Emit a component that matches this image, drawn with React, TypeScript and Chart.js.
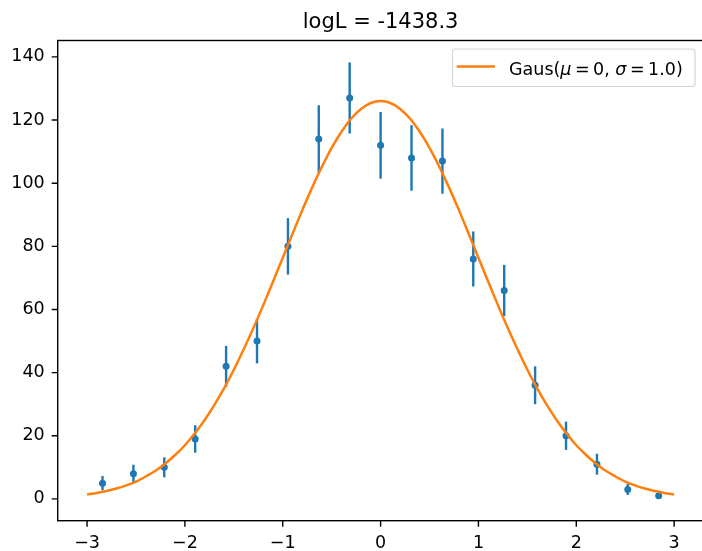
import React, { useEffect, useRef } from "react";
import { Chart, registerables } from "chart.js";

Chart.register(...registerables);

const TITLE = "logL = -1438.3";
const LEGEND_PARTS: { t: string; italic: boolean; gapAfter: number }[] = [
  { t: "Gaus(", italic: false, gapAfter: 0 },
  { t: "μ", italic: true, gapAfter: 3.5 },
  { t: "=", italic: false, gapAfter: 3.5 },
  { t: "0,", italic: false, gapAfter: 5.5 },
  { t: "σ", italic: true, gapAfter: 3.5 },
  { t: "=", italic: false, gapAfter: 3.5 },
  { t: "1.0", italic: false, gapAfter: 0 },
  { t: ")", italic: false, gapAfter: 0 },
];

const binCenters = [
  -2.842, -2.526, -2.211, -1.895, -1.579, -1.263, -0.947, -0.632, -0.316, 0,
  0.316, 0.632, 0.947, 1.263, 1.579, 1.895, 2.211, 2.526, 2.842,
];
const counts = [5, 8, 10, 19, 42, 50, 80, 114, 127, 112, 108, 107, 76, 66, 36, 20, 11, 3, 1];
const errors = [
  2.24, 2.83, 3.16, 4.36, 6.48, 7.07, 8.94, 10.68, 11.27, 10.58, 10.39, 10.34, 8.72, 8.12,
  6.0, 4.47, 3.32, 1.73, 1.0,
];

const curveX = [
  -3.0, -2.9, -2.8, -2.7, -2.6, -2.5, -2.4, -2.3, -2.2, -2.1, -2.0, -1.9, -1.8, -1.7, -1.6,
  -1.5, -1.4, -1.3, -1.2, -1.1, -1.0, -0.9, -0.8, -0.7, -0.6, -0.5, -0.4, -0.3, -0.2, -0.1,
  0.0, 0.1, 0.2, 0.3, 0.4, 0.5, 0.6, 0.7, 0.8, 0.9, 1.0, 1.1, 1.2, 1.3, 1.4, 1.5, 1.6, 1.7,
  1.8, 1.9, 2.0, 2.1, 2.2, 2.3, 2.4, 2.5, 2.6, 2.7, 2.8, 2.9, 3.0,
];
const curveY = [
  1.4, 1.9, 2.5, 3.3, 4.3, 5.5, 7.1, 8.9, 11.2, 13.9, 17.0, 20.7, 24.9, 29.7, 35.0, 40.9,
  47.3, 54.1, 61.3, 68.8, 76.4, 84.0, 91.5, 98.6, 105.2, 111.2, 116.3, 120.5, 123.5, 125.4,
  126.0, 125.4, 123.5, 120.5, 116.3, 111.2, 105.2, 98.6, 91.5, 84.0, 76.4, 68.8, 61.3, 54.1,
  47.3, 40.9, 35.0, 29.7, 24.9, 20.7, 17.0, 13.9, 11.2, 8.9, 7.1, 5.5, 4.3, 3.3, 2.5, 1.9, 1.4,
];

const xTicks = [-3, -2, -1, 0, 1, 2, 3];
const yTicks = [0, 20, 40, 60, 80, 100, 120, 140];
const X_MIN = -3.3;
const X_MAX = 3.3;
const Y_MIN = -6.9;
const Y_MAX = 145.2;

const BLUE = "#1f77b4";
const ORANGE = "#ff7f0e";
const FONT = "'DejaVu Sans', sans-serif";
const TICK_SIZE = 17.5;
const TICK_LEN = 6;

const CANVAS_W = 720;
const CANVAS_H = 551;
const VIEW_W = 702;

const fmt = (v: number) => (v < 0 ? "\u2212" + Math.abs(v) : String(v));

const decorPlugin = {
  id: "decor",
  beforeDatasetsDraw(chart: any) {
    const ctx = chart.ctx;
    const xs = chart.scales.x;
    const ys = chart.scales.y;
    ctx.save();
    ctx.strokeStyle = BLUE;
    ctx.lineWidth = 2.4;
    for (let i = 0; i < binCenters.length; i++) {
      const px = xs.getPixelForValue(binCenters[i]);
      ctx.beginPath();
      ctx.moveTo(px, ys.getPixelForValue(counts[i] - errors[i]));
      ctx.lineTo(px, ys.getPixelForValue(counts[i] + errors[i]));
      ctx.stroke();
    }
    ctx.restore();
  },
  afterDraw(chart: any) {
    const ctx = chart.ctx;
    const a = chart.chartArea;
    const xs = chart.scales.x;
    const ys = chart.scales.y;
    ctx.save();
    ctx.strokeStyle = "#000";
    ctx.lineWidth = 1.4;
    ctx.beginPath();
    for (const v of xTicks) {
      const px = xs.getPixelForValue(v);
      ctx.moveTo(px, a.bottom);
      ctx.lineTo(px, a.bottom + TICK_LEN);
    }
    for (const v of yTicks) {
      const py = ys.getPixelForValue(v);
      ctx.moveTo(a.left, py);
      ctx.lineTo(a.left - TICK_LEN, py);
    }
    ctx.stroke();
    // full axes frame; its right side falls just beyond the visible picture
    ctx.strokeRect(a.left, a.top, a.right - a.left, a.bottom - a.top);
    ctx.fillStyle = "#000";
    ctx.font = `21px ${FONT}`;
    ctx.textAlign = "center";
    ctx.textBaseline = "alphabetic";
    ctx.fillText(TITLE, (a.left + a.right) / 2, 28);
    const bx = 452.5, by = 49, bw = 242.5, bh = 37.5, r = 3;
    ctx.beginPath();
    ctx.moveTo(bx + r, by);
    ctx.lineTo(bx + bw - r, by);
    ctx.arcTo(bx + bw, by, bx + bw, by + r, r);
    ctx.lineTo(bx + bw, by + bh - r);
    ctx.arcTo(bx + bw, by + bh, bx + bw - r, by + bh, r);
    ctx.lineTo(bx + r, by + bh);
    ctx.arcTo(bx, by + bh, bx, by + bh - r, r);
    ctx.lineTo(bx, by + r);
    ctx.arcTo(bx, by, bx + r, by, r);
    ctx.closePath();
    ctx.fillStyle = "rgba(255,255,255,0.8)";
    ctx.fill();
    ctx.strokeStyle = "#d5d5d5";
    ctx.lineWidth = 1.2;
    ctx.stroke();
    ctx.strokeStyle = ORANGE;
    ctx.lineWidth = 2.5;
    ctx.beginPath();
    ctx.moveTo(456.7, 66.5);
    ctx.lineTo(495, 66.5);
    ctx.stroke();
    ctx.fillStyle = "#000";
    ctx.textAlign = "left";
    let x = 509;
    const baseY = 75;
    for (const p of LEGEND_PARTS) {
      ctx.font = `${p.italic ? "italic " : ""}${TICK_SIZE}px ${FONT}`;
      ctx.fillText(p.t, x, baseY);
      x += ctx.measureText(p.t).width + p.gapAfter;
    }
    ctx.restore();
  },
};

const HIDDEN = "rgba(0,0,0,0)";

export default function App() {
  const ref = useRef<HTMLCanvasElement | null>(null);
  useEffect(() => {
    if (!ref.current) return;
    const chart = new Chart(ref.current, {
      type: "scatter",
      data: {
        datasets: [
          {
            type: "line",
            label: "Gaus",
            data: curveX.map((x, i) => ({ x, y: curveY[i] })),
            borderColor: ORANGE,
            borderWidth: 2.5,
            pointRadius: 0,
            fill: false,
            tension: 0.3,
            order: 0,
          } as any,
          {
            type: "scatter",
            label: "data",
            data: binCenters.map((x, i) => ({ x, y: counts[i] })),
            backgroundColor: BLUE,
            borderWidth: 0,
            pointRadius: 3.5,
            order: 1,
          },
        ],
      },
      options: {
        responsive: false,
        animation: false,
        devicePixelRatio: 1,
        layout: { padding: { top: 40.5, right: CANVAS_W - 703.5, left: 0, bottom: 0 } },
        plugins: { legend: { display: false }, tooltip: { enabled: false }, title: { display: false } },
        scales: {
          x: {
            type: "linear",
            min: X_MIN,
            max: X_MAX,
            afterBuildTicks: (s: any) => {
              s.ticks = xTicks.map((v) => ({ value: v }));
            },
            afterFit: (s: any) => {
              s.height = CANVAS_H - 520.7;
            },
            border: { display: false },
            grid: {
              display: true,
              drawOnChartArea: false,
              drawTicks: true,
              tickLength: TICK_LEN,
              color: HIDDEN,
              tickColor: HIDDEN,
            },
            ticks: {
              color: "#000",
              padding: 6,
              maxRotation: 0,
              autoSkip: false,
              font: { family: FONT, size: TICK_SIZE },
              callback: (v: any) => fmt(Number(v)),
            },
          },
          y: {
            type: "linear",
            min: Y_MIN,
            max: Y_MAX,
            afterBuildTicks: (s: any) => {
              s.ticks = yTicks.map((v) => ({ value: v }));
            },
            afterFit: (s: any) => {
              s.width = 57.7;
            },
            border: { display: false },
            grid: {
              display: true,
              drawOnChartArea: false,
              drawTicks: true,
              tickLength: TICK_LEN,
              color: HIDDEN,
              tickColor: HIDDEN,
            },
            ticks: {
              color: "#000",
              padding: 7,
              autoSkip: false,
              font: { family: FONT, size: TICK_SIZE },
              callback: (v: any) => fmt(Number(v)),
            },
          },
        },
      },
      plugins: [decorPlugin],
    });
    return () => chart.destroy();
  }, []);
  return (
    <div
      style={{
        position: "fixed",
        left: 0,
        top: 0,
        width: VIEW_W,
        height: CANVAS_H,
        overflow: "hidden",
        background: "#fff",
      }}
    >
      <canvas ref={ref} width={CANVAS_W} height={CANVAS_H} style={{ display: "block", width: CANVAS_W, height: CANVAS_H }} />
    </div>
  );
}
